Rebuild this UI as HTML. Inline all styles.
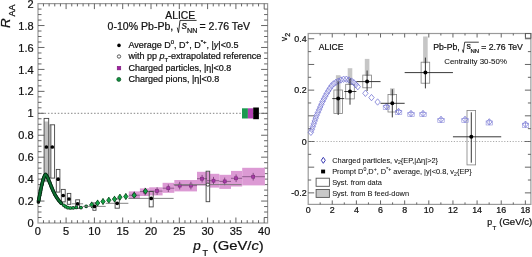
<!DOCTYPE html>
<html><head><meta charset="utf-8"><style>
html,body{margin:0;padding:0;background:#fff;overflow:hidden;width:532px;height:257px;}
svg{display:block;will-change:transform;filter:blur(0.3px);}
text{font-family:"Liberation Sans",sans-serif;fill:#111;stroke:#111;stroke-width:0.22px;}
</style></head><body>
<svg width="532" height="257" viewBox="0 0 532 257">
<rect width="532" height="257" fill="#fff"/>
<rect x="38.00" y="3.60" width="229.60" height="219.40" fill="none" stroke="#9a9a9a" stroke-width="1.2" />
<line x1="38.00" y1="217.51" x2="41.50" y2="217.51" stroke="#555" stroke-width="0.9" />
<line x1="267.60" y1="217.51" x2="264.10" y2="217.51" stroke="#555" stroke-width="0.9" />
<line x1="38.00" y1="212.03" x2="41.50" y2="212.03" stroke="#555" stroke-width="0.9" />
<line x1="267.60" y1="212.03" x2="264.10" y2="212.03" stroke="#555" stroke-width="0.9" />
<line x1="38.00" y1="206.54" x2="41.50" y2="206.54" stroke="#555" stroke-width="0.9" />
<line x1="267.60" y1="206.54" x2="264.10" y2="206.54" stroke="#555" stroke-width="0.9" />
<line x1="38.00" y1="201.06" x2="44.50" y2="201.06" stroke="#555" stroke-width="0.9" />
<line x1="267.60" y1="201.06" x2="261.10" y2="201.06" stroke="#555" stroke-width="0.9" />
<line x1="38.00" y1="195.57" x2="41.50" y2="195.57" stroke="#555" stroke-width="0.9" />
<line x1="267.60" y1="195.57" x2="264.10" y2="195.57" stroke="#555" stroke-width="0.9" />
<line x1="38.00" y1="190.09" x2="41.50" y2="190.09" stroke="#555" stroke-width="0.9" />
<line x1="267.60" y1="190.09" x2="264.10" y2="190.09" stroke="#555" stroke-width="0.9" />
<line x1="38.00" y1="184.60" x2="41.50" y2="184.60" stroke="#555" stroke-width="0.9" />
<line x1="267.60" y1="184.60" x2="264.10" y2="184.60" stroke="#555" stroke-width="0.9" />
<line x1="38.00" y1="179.12" x2="44.50" y2="179.12" stroke="#555" stroke-width="0.9" />
<line x1="267.60" y1="179.12" x2="261.10" y2="179.12" stroke="#555" stroke-width="0.9" />
<line x1="38.00" y1="173.63" x2="41.50" y2="173.63" stroke="#555" stroke-width="0.9" />
<line x1="267.60" y1="173.63" x2="264.10" y2="173.63" stroke="#555" stroke-width="0.9" />
<line x1="38.00" y1="168.15" x2="41.50" y2="168.15" stroke="#555" stroke-width="0.9" />
<line x1="267.60" y1="168.15" x2="264.10" y2="168.15" stroke="#555" stroke-width="0.9" />
<line x1="38.00" y1="162.66" x2="41.50" y2="162.66" stroke="#555" stroke-width="0.9" />
<line x1="267.60" y1="162.66" x2="264.10" y2="162.66" stroke="#555" stroke-width="0.9" />
<line x1="38.00" y1="157.18" x2="44.50" y2="157.18" stroke="#555" stroke-width="0.9" />
<line x1="267.60" y1="157.18" x2="261.10" y2="157.18" stroke="#555" stroke-width="0.9" />
<line x1="38.00" y1="151.69" x2="41.50" y2="151.69" stroke="#555" stroke-width="0.9" />
<line x1="267.60" y1="151.69" x2="264.10" y2="151.69" stroke="#555" stroke-width="0.9" />
<line x1="38.00" y1="146.21" x2="41.50" y2="146.21" stroke="#555" stroke-width="0.9" />
<line x1="267.60" y1="146.21" x2="264.10" y2="146.21" stroke="#555" stroke-width="0.9" />
<line x1="38.00" y1="140.72" x2="41.50" y2="140.72" stroke="#555" stroke-width="0.9" />
<line x1="267.60" y1="140.72" x2="264.10" y2="140.72" stroke="#555" stroke-width="0.9" />
<line x1="38.00" y1="135.24" x2="44.50" y2="135.24" stroke="#555" stroke-width="0.9" />
<line x1="267.60" y1="135.24" x2="261.10" y2="135.24" stroke="#555" stroke-width="0.9" />
<line x1="38.00" y1="129.75" x2="41.50" y2="129.75" stroke="#555" stroke-width="0.9" />
<line x1="267.60" y1="129.75" x2="264.10" y2="129.75" stroke="#555" stroke-width="0.9" />
<line x1="38.00" y1="124.27" x2="41.50" y2="124.27" stroke="#555" stroke-width="0.9" />
<line x1="267.60" y1="124.27" x2="264.10" y2="124.27" stroke="#555" stroke-width="0.9" />
<line x1="38.00" y1="118.78" x2="41.50" y2="118.78" stroke="#555" stroke-width="0.9" />
<line x1="267.60" y1="118.78" x2="264.10" y2="118.78" stroke="#555" stroke-width="0.9" />
<line x1="38.00" y1="113.30" x2="44.50" y2="113.30" stroke="#555" stroke-width="0.9" />
<line x1="267.60" y1="113.30" x2="261.10" y2="113.30" stroke="#555" stroke-width="0.9" />
<line x1="38.00" y1="107.81" x2="41.50" y2="107.81" stroke="#555" stroke-width="0.9" />
<line x1="267.60" y1="107.81" x2="264.10" y2="107.81" stroke="#555" stroke-width="0.9" />
<line x1="38.00" y1="102.33" x2="41.50" y2="102.33" stroke="#555" stroke-width="0.9" />
<line x1="267.60" y1="102.33" x2="264.10" y2="102.33" stroke="#555" stroke-width="0.9" />
<line x1="38.00" y1="96.84" x2="41.50" y2="96.84" stroke="#555" stroke-width="0.9" />
<line x1="267.60" y1="96.84" x2="264.10" y2="96.84" stroke="#555" stroke-width="0.9" />
<line x1="38.00" y1="91.36" x2="44.50" y2="91.36" stroke="#555" stroke-width="0.9" />
<line x1="267.60" y1="91.36" x2="261.10" y2="91.36" stroke="#555" stroke-width="0.9" />
<line x1="38.00" y1="85.88" x2="41.50" y2="85.88" stroke="#555" stroke-width="0.9" />
<line x1="267.60" y1="85.88" x2="264.10" y2="85.88" stroke="#555" stroke-width="0.9" />
<line x1="38.00" y1="80.39" x2="41.50" y2="80.39" stroke="#555" stroke-width="0.9" />
<line x1="267.60" y1="80.39" x2="264.10" y2="80.39" stroke="#555" stroke-width="0.9" />
<line x1="38.00" y1="74.90" x2="41.50" y2="74.90" stroke="#555" stroke-width="0.9" />
<line x1="267.60" y1="74.90" x2="264.10" y2="74.90" stroke="#555" stroke-width="0.9" />
<line x1="38.00" y1="69.42" x2="44.50" y2="69.42" stroke="#555" stroke-width="0.9" />
<line x1="267.60" y1="69.42" x2="261.10" y2="69.42" stroke="#555" stroke-width="0.9" />
<line x1="38.00" y1="63.93" x2="41.50" y2="63.93" stroke="#555" stroke-width="0.9" />
<line x1="267.60" y1="63.93" x2="264.10" y2="63.93" stroke="#555" stroke-width="0.9" />
<line x1="38.00" y1="58.45" x2="41.50" y2="58.45" stroke="#555" stroke-width="0.9" />
<line x1="267.60" y1="58.45" x2="264.10" y2="58.45" stroke="#555" stroke-width="0.9" />
<line x1="38.00" y1="52.97" x2="41.50" y2="52.97" stroke="#555" stroke-width="0.9" />
<line x1="267.60" y1="52.97" x2="264.10" y2="52.97" stroke="#555" stroke-width="0.9" />
<line x1="38.00" y1="47.48" x2="44.50" y2="47.48" stroke="#555" stroke-width="0.9" />
<line x1="267.60" y1="47.48" x2="261.10" y2="47.48" stroke="#555" stroke-width="0.9" />
<line x1="38.00" y1="41.99" x2="41.50" y2="41.99" stroke="#555" stroke-width="0.9" />
<line x1="267.60" y1="41.99" x2="264.10" y2="41.99" stroke="#555" stroke-width="0.9" />
<line x1="38.00" y1="36.51" x2="41.50" y2="36.51" stroke="#555" stroke-width="0.9" />
<line x1="267.60" y1="36.51" x2="264.10" y2="36.51" stroke="#555" stroke-width="0.9" />
<line x1="38.00" y1="31.03" x2="41.50" y2="31.03" stroke="#555" stroke-width="0.9" />
<line x1="267.60" y1="31.03" x2="264.10" y2="31.03" stroke="#555" stroke-width="0.9" />
<line x1="38.00" y1="25.54" x2="44.50" y2="25.54" stroke="#555" stroke-width="0.9" />
<line x1="267.60" y1="25.54" x2="261.10" y2="25.54" stroke="#555" stroke-width="0.9" />
<line x1="38.00" y1="20.05" x2="41.50" y2="20.05" stroke="#555" stroke-width="0.9" />
<line x1="267.60" y1="20.05" x2="264.10" y2="20.05" stroke="#555" stroke-width="0.9" />
<line x1="38.00" y1="14.57" x2="41.50" y2="14.57" stroke="#555" stroke-width="0.9" />
<line x1="267.60" y1="14.57" x2="264.10" y2="14.57" stroke="#555" stroke-width="0.9" />
<line x1="38.00" y1="9.08" x2="41.50" y2="9.08" stroke="#555" stroke-width="0.9" />
<line x1="267.60" y1="9.08" x2="264.10" y2="9.08" stroke="#555" stroke-width="0.9" />
<line x1="43.46" y1="223.00" x2="43.46" y2="220.20" stroke="#555" stroke-width="0.9" />
<line x1="43.46" y1="3.60" x2="43.46" y2="6.40" stroke="#555" stroke-width="0.9" />
<line x1="49.12" y1="223.00" x2="49.12" y2="220.20" stroke="#555" stroke-width="0.9" />
<line x1="49.12" y1="3.60" x2="49.12" y2="6.40" stroke="#555" stroke-width="0.9" />
<line x1="54.78" y1="223.00" x2="54.78" y2="220.20" stroke="#555" stroke-width="0.9" />
<line x1="54.78" y1="3.60" x2="54.78" y2="6.40" stroke="#555" stroke-width="0.9" />
<line x1="60.44" y1="223.00" x2="60.44" y2="220.20" stroke="#555" stroke-width="0.9" />
<line x1="60.44" y1="3.60" x2="60.44" y2="6.40" stroke="#555" stroke-width="0.9" />
<line x1="66.10" y1="223.00" x2="66.10" y2="217.50" stroke="#555" stroke-width="0.9" />
<line x1="66.10" y1="3.60" x2="66.10" y2="9.10" stroke="#555" stroke-width="0.9" />
<line x1="71.76" y1="223.00" x2="71.76" y2="220.20" stroke="#555" stroke-width="0.9" />
<line x1="71.76" y1="3.60" x2="71.76" y2="6.40" stroke="#555" stroke-width="0.9" />
<line x1="77.42" y1="223.00" x2="77.42" y2="220.20" stroke="#555" stroke-width="0.9" />
<line x1="77.42" y1="3.60" x2="77.42" y2="6.40" stroke="#555" stroke-width="0.9" />
<line x1="83.08" y1="223.00" x2="83.08" y2="220.20" stroke="#555" stroke-width="0.9" />
<line x1="83.08" y1="3.60" x2="83.08" y2="6.40" stroke="#555" stroke-width="0.9" />
<line x1="88.74" y1="223.00" x2="88.74" y2="220.20" stroke="#555" stroke-width="0.9" />
<line x1="88.74" y1="3.60" x2="88.74" y2="6.40" stroke="#555" stroke-width="0.9" />
<line x1="94.40" y1="223.00" x2="94.40" y2="217.50" stroke="#555" stroke-width="0.9" />
<line x1="94.40" y1="3.60" x2="94.40" y2="9.10" stroke="#555" stroke-width="0.9" />
<line x1="100.06" y1="223.00" x2="100.06" y2="220.20" stroke="#555" stroke-width="0.9" />
<line x1="100.06" y1="3.60" x2="100.06" y2="6.40" stroke="#555" stroke-width="0.9" />
<line x1="105.72" y1="223.00" x2="105.72" y2="220.20" stroke="#555" stroke-width="0.9" />
<line x1="105.72" y1="3.60" x2="105.72" y2="6.40" stroke="#555" stroke-width="0.9" />
<line x1="111.38" y1="223.00" x2="111.38" y2="220.20" stroke="#555" stroke-width="0.9" />
<line x1="111.38" y1="3.60" x2="111.38" y2="6.40" stroke="#555" stroke-width="0.9" />
<line x1="117.04" y1="223.00" x2="117.04" y2="220.20" stroke="#555" stroke-width="0.9" />
<line x1="117.04" y1="3.60" x2="117.04" y2="6.40" stroke="#555" stroke-width="0.9" />
<line x1="122.70" y1="223.00" x2="122.70" y2="217.50" stroke="#555" stroke-width="0.9" />
<line x1="122.70" y1="3.60" x2="122.70" y2="9.10" stroke="#555" stroke-width="0.9" />
<line x1="128.36" y1="223.00" x2="128.36" y2="220.20" stroke="#555" stroke-width="0.9" />
<line x1="128.36" y1="3.60" x2="128.36" y2="6.40" stroke="#555" stroke-width="0.9" />
<line x1="134.02" y1="223.00" x2="134.02" y2="220.20" stroke="#555" stroke-width="0.9" />
<line x1="134.02" y1="3.60" x2="134.02" y2="6.40" stroke="#555" stroke-width="0.9" />
<line x1="139.68" y1="223.00" x2="139.68" y2="220.20" stroke="#555" stroke-width="0.9" />
<line x1="139.68" y1="3.60" x2="139.68" y2="6.40" stroke="#555" stroke-width="0.9" />
<line x1="145.34" y1="223.00" x2="145.34" y2="220.20" stroke="#555" stroke-width="0.9" />
<line x1="145.34" y1="3.60" x2="145.34" y2="6.40" stroke="#555" stroke-width="0.9" />
<line x1="151.00" y1="223.00" x2="151.00" y2="217.50" stroke="#555" stroke-width="0.9" />
<line x1="151.00" y1="3.60" x2="151.00" y2="9.10" stroke="#555" stroke-width="0.9" />
<line x1="156.66" y1="223.00" x2="156.66" y2="220.20" stroke="#555" stroke-width="0.9" />
<line x1="156.66" y1="3.60" x2="156.66" y2="6.40" stroke="#555" stroke-width="0.9" />
<line x1="162.32" y1="223.00" x2="162.32" y2="220.20" stroke="#555" stroke-width="0.9" />
<line x1="162.32" y1="3.60" x2="162.32" y2="6.40" stroke="#555" stroke-width="0.9" />
<line x1="167.98" y1="223.00" x2="167.98" y2="220.20" stroke="#555" stroke-width="0.9" />
<line x1="167.98" y1="3.60" x2="167.98" y2="6.40" stroke="#555" stroke-width="0.9" />
<line x1="173.64" y1="223.00" x2="173.64" y2="220.20" stroke="#555" stroke-width="0.9" />
<line x1="173.64" y1="3.60" x2="173.64" y2="6.40" stroke="#555" stroke-width="0.9" />
<line x1="179.30" y1="223.00" x2="179.30" y2="217.50" stroke="#555" stroke-width="0.9" />
<line x1="179.30" y1="3.60" x2="179.30" y2="9.10" stroke="#555" stroke-width="0.9" />
<line x1="184.96" y1="223.00" x2="184.96" y2="220.20" stroke="#555" stroke-width="0.9" />
<line x1="184.96" y1="3.60" x2="184.96" y2="6.40" stroke="#555" stroke-width="0.9" />
<line x1="190.62" y1="223.00" x2="190.62" y2="220.20" stroke="#555" stroke-width="0.9" />
<line x1="190.62" y1="3.60" x2="190.62" y2="6.40" stroke="#555" stroke-width="0.9" />
<line x1="196.28" y1="223.00" x2="196.28" y2="220.20" stroke="#555" stroke-width="0.9" />
<line x1="196.28" y1="3.60" x2="196.28" y2="6.40" stroke="#555" stroke-width="0.9" />
<line x1="201.94" y1="223.00" x2="201.94" y2="220.20" stroke="#555" stroke-width="0.9" />
<line x1="201.94" y1="3.60" x2="201.94" y2="6.40" stroke="#555" stroke-width="0.9" />
<line x1="207.60" y1="223.00" x2="207.60" y2="217.50" stroke="#555" stroke-width="0.9" />
<line x1="207.60" y1="3.60" x2="207.60" y2="9.10" stroke="#555" stroke-width="0.9" />
<line x1="213.26" y1="223.00" x2="213.26" y2="220.20" stroke="#555" stroke-width="0.9" />
<line x1="213.26" y1="3.60" x2="213.26" y2="6.40" stroke="#555" stroke-width="0.9" />
<line x1="218.92" y1="223.00" x2="218.92" y2="220.20" stroke="#555" stroke-width="0.9" />
<line x1="218.92" y1="3.60" x2="218.92" y2="6.40" stroke="#555" stroke-width="0.9" />
<line x1="224.58" y1="223.00" x2="224.58" y2="220.20" stroke="#555" stroke-width="0.9" />
<line x1="224.58" y1="3.60" x2="224.58" y2="6.40" stroke="#555" stroke-width="0.9" />
<line x1="230.24" y1="223.00" x2="230.24" y2="220.20" stroke="#555" stroke-width="0.9" />
<line x1="230.24" y1="3.60" x2="230.24" y2="6.40" stroke="#555" stroke-width="0.9" />
<line x1="235.90" y1="223.00" x2="235.90" y2="217.50" stroke="#555" stroke-width="0.9" />
<line x1="235.90" y1="3.60" x2="235.90" y2="9.10" stroke="#555" stroke-width="0.9" />
<line x1="241.56" y1="223.00" x2="241.56" y2="220.20" stroke="#555" stroke-width="0.9" />
<line x1="241.56" y1="3.60" x2="241.56" y2="6.40" stroke="#555" stroke-width="0.9" />
<line x1="247.22" y1="223.00" x2="247.22" y2="220.20" stroke="#555" stroke-width="0.9" />
<line x1="247.22" y1="3.60" x2="247.22" y2="6.40" stroke="#555" stroke-width="0.9" />
<line x1="252.88" y1="223.00" x2="252.88" y2="220.20" stroke="#555" stroke-width="0.9" />
<line x1="252.88" y1="3.60" x2="252.88" y2="6.40" stroke="#555" stroke-width="0.9" />
<line x1="258.54" y1="223.00" x2="258.54" y2="220.20" stroke="#555" stroke-width="0.9" />
<line x1="258.54" y1="3.60" x2="258.54" y2="6.40" stroke="#555" stroke-width="0.9" />
<line x1="264.20" y1="223.00" x2="264.20" y2="217.50" stroke="#555" stroke-width="0.9" />
<line x1="264.20" y1="3.60" x2="264.20" y2="9.10" stroke="#555" stroke-width="0.9" />
<text x="33.60" y="227.10" font-size="11.0" text-anchor="end" >0</text>
<text x="33.60" y="205.16" font-size="11.0" text-anchor="end" >0.2</text>
<text x="33.60" y="183.22" font-size="11.0" text-anchor="end" >0.4</text>
<text x="33.60" y="161.28" font-size="11.0" text-anchor="end" >0.6</text>
<text x="33.60" y="139.34" font-size="11.0" text-anchor="end" >0.8</text>
<text x="33.60" y="117.40" font-size="11.0" text-anchor="end" >1</text>
<text x="33.60" y="95.46" font-size="11.0" text-anchor="end" >1.2</text>
<text x="33.60" y="73.52" font-size="11.0" text-anchor="end" >1.4</text>
<text x="33.60" y="51.58" font-size="11.0" text-anchor="end" >1.6</text>
<text x="33.60" y="29.64" font-size="11.0" text-anchor="end" >1.8</text>
<text x="33.60" y="7.70" font-size="11.0" text-anchor="end" >2</text>
<text x="37.80" y="234.70" font-size="11.0" text-anchor="middle" >0</text>
<text x="66.10" y="234.70" font-size="11.0" text-anchor="middle" >5</text>
<text x="94.40" y="234.70" font-size="11.0" text-anchor="middle" >10</text>
<text x="122.70" y="234.70" font-size="11.0" text-anchor="middle" >15</text>
<text x="151.00" y="234.70" font-size="11.0" text-anchor="middle" >20</text>
<text x="179.30" y="234.70" font-size="11.0" text-anchor="middle" >25</text>
<text x="207.60" y="234.70" font-size="11.0" text-anchor="middle" >30</text>
<text x="235.90" y="234.70" font-size="11.0" text-anchor="middle" >35</text>
<text x="264.20" y="234.70" font-size="11.0" text-anchor="middle" >40</text>
<text x="193.3" y="249.6" font-size="13.5" font-style="italic">p</text>
<text x="202.6" y="255.8" font-size="9">T</text>
<text x="212.8" y="249.6" font-size="13.5" textLength="51" lengthAdjust="spacingAndGlyphs">(GeV/<tspan font-style="italic">c</tspan>)</text>
<text transform="translate(10.0,28.0) rotate(-90)" font-size="13.4"><tspan font-style="italic">R</tspan><tspan font-size="9" dy="4.8" x="11.6">AA</tspan></text>
<line x1="38.00" y1="113.30" x2="267.60" y2="113.30" stroke="#666" stroke-width="0.8" stroke-dasharray="1.5 1.8"/>
<text x="180.20" y="18.70" font-size="10.3" text-anchor="middle" >ALICE</text>
<text x="107.6" y="29.7" font-size="10.55">0-10% Pb-Pb,</text>
<path d="M177.3,27.6 L178.5,32.6 L180.0,20.4 L196.6,20.4" fill="none" stroke="#111" stroke-width="0.85"/>
<text x="181.8" y="29.4" font-size="10.55" font-style="italic">s</text>
<text x="187.0" y="32.8" font-size="7.2">NN</text>
<text x="199.5" y="29.7" font-size="10.55">= 2.76 TeV</text>
<circle cx="119.00" cy="45.40" r="1.8" fill="#000" stroke="none" stroke-width="1"/>
<circle cx="119.00" cy="56.50" r="1.7" fill="#fff" stroke="#333" stroke-width="0.8"/>
<rect x="117.20" y="66.30" width="3.60" height="3.60" fill="#a020a0" stroke="#701070" stroke-width="0.5" />
<circle cx="118.80" cy="79.40" r="2.0" fill="#109040" stroke="#0a5020" stroke-width="0.7"/>
<text x="128.4" y="48.2" font-size="9.0">Average D<tspan font-size="6" dy="-4">0</tspan><tspan dy="4">, D</tspan><tspan font-size="6" dy="-4">+</tspan><tspan dy="4">, D</tspan><tspan font-size="6" dy="-4">*+</tspan><tspan dy="4">, |</tspan><tspan font-style="italic">y</tspan>|&lt;0.5</text>
<text x="128.4" y="59.4" font-size="9.0">with pp <tspan font-style="italic">p</tspan><tspan font-size="6" dy="2.5">T</tspan><tspan dy="-2.5">-extrapolated reference</tspan></text>
<text x="128.4" y="70.7" font-size="9.0">Charged particles, |&#951;|&lt;0.8</text>
<text x="128.4" y="81.9" font-size="9.0">Charged pions, |&#951;|&lt;0.8</text>
<rect x="242.00" y="108.30" width="5.90" height="10.20" fill="#1a9a50" stroke="none" stroke-width="1" />
<rect x="247.90" y="108.30" width="5.30" height="10.20" fill="#b040b0" stroke="none" stroke-width="1" />
<rect x="253.20" y="107.50" width="5.70" height="11.70" fill="#000" stroke="none" stroke-width="1" />
<rect x="128.80" y="191.40" width="11.10" height="7.60" fill="#dc9ad4" stroke="none" stroke-width="1" />
<rect x="139.90" y="188.40" width="9.30" height="7.60" fill="#dc9ad4" stroke="none" stroke-width="1" />
<rect x="149.20" y="187.30" width="13.40" height="8.10" fill="#dc9ad4" stroke="none" stroke-width="1" />
<rect x="162.60" y="182.80" width="11.70" height="10.00" fill="#dc9ad4" stroke="none" stroke-width="1" />
<rect x="174.30" y="180.00" width="22.70" height="11.40" fill="#dc9ad4" stroke="none" stroke-width="1" />
<rect x="197.00" y="171.80" width="13.00" height="13.80" fill="#dc9ad4" stroke="none" stroke-width="1" />
<rect x="210.00" y="173.80" width="9.30" height="13.80" fill="#dc9ad4" stroke="none" stroke-width="1" />
<rect x="219.30" y="174.80" width="11.70" height="14.10" fill="#dc9ad4" stroke="none" stroke-width="1" />
<rect x="231.00" y="170.90" width="11.20" height="15.60" fill="#dc9ad4" stroke="none" stroke-width="1" />
<rect x="242.20" y="167.80" width="22.70" height="17.60" fill="#dc9ad4" stroke="none" stroke-width="1" />
<line x1="128.80" y1="195.20" x2="139.90" y2="195.20" stroke="#7a4a7a" stroke-width="0.8" />
<line x1="134.30" y1="191.40" x2="134.30" y2="199.00" stroke="#6a3a6a" stroke-width="0.8" />
<line x1="139.90" y1="191.60" x2="149.20" y2="191.60" stroke="#7a4a7a" stroke-width="0.8" />
<line x1="145.00" y1="187.80" x2="145.00" y2="195.40" stroke="#6a3a6a" stroke-width="0.8" />
<line x1="149.20" y1="191.10" x2="162.60" y2="191.10" stroke="#7a4a7a" stroke-width="0.8" />
<line x1="157.10" y1="187.30" x2="157.10" y2="194.90" stroke="#6a3a6a" stroke-width="0.8" />
<line x1="162.60" y1="188.20" x2="174.30" y2="188.20" stroke="#7a4a7a" stroke-width="0.8" />
<line x1="168.30" y1="184.40" x2="168.30" y2="192.00" stroke="#6a3a6a" stroke-width="0.8" />
<line x1="174.30" y1="185.60" x2="185.00" y2="185.60" stroke="#7a4a7a" stroke-width="0.8" />
<line x1="179.70" y1="181.80" x2="179.70" y2="189.40" stroke="#6a3a6a" stroke-width="0.8" />
<line x1="185.00" y1="185.60" x2="197.00" y2="185.60" stroke="#7a4a7a" stroke-width="0.8" />
<line x1="190.90" y1="181.80" x2="190.90" y2="189.40" stroke="#6a3a6a" stroke-width="0.8" />
<line x1="197.00" y1="178.70" x2="207.00" y2="178.70" stroke="#7a4a7a" stroke-width="0.8" />
<line x1="202.10" y1="174.90" x2="202.10" y2="182.50" stroke="#6a3a6a" stroke-width="0.8" />
<line x1="207.00" y1="180.70" x2="219.30" y2="180.70" stroke="#7a4a7a" stroke-width="0.8" />
<line x1="213.50" y1="176.90" x2="213.50" y2="184.50" stroke="#6a3a6a" stroke-width="0.8" />
<line x1="219.30" y1="181.40" x2="231.00" y2="181.40" stroke="#7a4a7a" stroke-width="0.8" />
<line x1="224.70" y1="177.60" x2="224.70" y2="185.20" stroke="#6a3a6a" stroke-width="0.8" />
<line x1="231.00" y1="178.30" x2="242.20" y2="178.30" stroke="#7a4a7a" stroke-width="0.8" />
<line x1="236.10" y1="174.50" x2="236.10" y2="182.10" stroke="#6a3a6a" stroke-width="0.8" />
<line x1="242.20" y1="176.70" x2="264.90" y2="176.70" stroke="#7a4a7a" stroke-width="0.8" />
<line x1="253.20" y1="172.90" x2="253.20" y2="180.50" stroke="#6a3a6a" stroke-width="0.8" />
<rect x="132.80" y="193.70" width="3.00" height="3.00" fill="#a83aa8" stroke="#7a2a7a" stroke-width="0.6" />
<rect x="143.50" y="190.10" width="3.00" height="3.00" fill="#a83aa8" stroke="#7a2a7a" stroke-width="0.6" />
<rect x="155.60" y="189.60" width="3.00" height="3.00" fill="#a83aa8" stroke="#7a2a7a" stroke-width="0.6" />
<rect x="166.80" y="186.70" width="3.00" height="3.00" fill="#a83aa8" stroke="#7a2a7a" stroke-width="0.6" />
<rect x="178.20" y="184.10" width="3.00" height="3.00" fill="#a83aa8" stroke="#7a2a7a" stroke-width="0.6" />
<rect x="189.40" y="184.10" width="3.00" height="3.00" fill="#a83aa8" stroke="#7a2a7a" stroke-width="0.6" />
<rect x="200.60" y="177.20" width="3.00" height="3.00" fill="#a83aa8" stroke="#7a2a7a" stroke-width="0.6" />
<rect x="212.00" y="179.20" width="3.00" height="3.00" fill="#a83aa8" stroke="#7a2a7a" stroke-width="0.6" />
<rect x="223.20" y="179.90" width="3.00" height="3.00" fill="#a83aa8" stroke="#7a2a7a" stroke-width="0.6" />
<rect x="234.60" y="176.80" width="3.00" height="3.00" fill="#a83aa8" stroke="#7a2a7a" stroke-width="0.6" />
<rect x="251.70" y="175.20" width="3.00" height="3.00" fill="#a83aa8" stroke="#7a2a7a" stroke-width="0.6" />
<rect x="44.30" y="121.50" width="4.10" height="59.50" fill="#c0c0c0" stroke="none" stroke-width="1" />
<rect x="50.30" y="125.00" width="1.70" height="53.10" fill="#c0c0c0" stroke="none" stroke-width="1" />
<rect x="44.10" y="118.40" width="4.60" height="62.60" fill="none" stroke="#444" stroke-width="0.9" />
<rect x="50.10" y="124.80" width="4.50" height="53.30" fill="none" stroke="#444" stroke-width="0.9" />
<rect x="56.30" y="169.40" width="3.60" height="22.70" fill="none" stroke="#444" stroke-width="0.9" />
<rect x="61.30" y="189.40" width="3.90" height="12.50" fill="none" stroke="#444" stroke-width="0.9" />
<rect x="67.30" y="193.40" width="3.50" height="10.90" fill="none" stroke="#444" stroke-width="0.9" />
<rect x="75.70" y="199.80" width="3.90" height="8.50" fill="none" stroke="#444" stroke-width="0.9" />
<rect x="92.90" y="203.00" width="3.10" height="7.30" fill="none" stroke="#444" stroke-width="0.9" />
<rect x="115.10" y="198.90" width="4.20" height="9.30" fill="none" stroke="#444" stroke-width="0.9" />
<rect x="149.20" y="191.50" width="4.00" height="15.40" fill="none" stroke="#444" stroke-width="0.9" />
<rect x="206.10" y="171.20" width="3.60" height="30.50" fill="none" stroke="#444" stroke-width="0.9" />
<circle cx="38.40" cy="202.00" r="1.8" fill="#082c15" stroke="none" stroke-width="1"/>
<circle cx="38.56" cy="201.11" r="1.8" fill="#082c15" stroke="none" stroke-width="1"/>
<circle cx="38.72" cy="200.23" r="1.8" fill="#082c15" stroke="none" stroke-width="1"/>
<circle cx="38.88" cy="199.34" r="1.8" fill="#082c15" stroke="none" stroke-width="1"/>
<circle cx="39.04" cy="198.46" r="1.8" fill="#082c15" stroke="none" stroke-width="1"/>
<circle cx="39.20" cy="197.57" r="1.8" fill="#082c15" stroke="none" stroke-width="1"/>
<circle cx="39.36" cy="196.69" r="1.8" fill="#082c15" stroke="none" stroke-width="1"/>
<circle cx="39.54" cy="195.80" r="1.8" fill="#082c15" stroke="none" stroke-width="1"/>
<circle cx="39.72" cy="194.92" r="1.8" fill="#082c15" stroke="none" stroke-width="1"/>
<circle cx="39.89" cy="194.04" r="1.8" fill="#082c15" stroke="none" stroke-width="1"/>
<circle cx="40.07" cy="193.16" r="1.8" fill="#082c15" stroke="none" stroke-width="1"/>
<circle cx="40.25" cy="192.27" r="1.8" fill="#082c15" stroke="none" stroke-width="1"/>
<circle cx="40.42" cy="191.39" r="1.8" fill="#082c15" stroke="none" stroke-width="1"/>
<circle cx="40.60" cy="190.51" r="1.8" fill="#082c15" stroke="none" stroke-width="1"/>
<circle cx="40.77" cy="189.63" r="1.8" fill="#082c15" stroke="none" stroke-width="1"/>
<circle cx="40.95" cy="188.74" r="1.8" fill="#082c15" stroke="none" stroke-width="1"/>
<circle cx="41.13" cy="187.86" r="1.8" fill="#082c15" stroke="none" stroke-width="1"/>
<circle cx="41.33" cy="186.98" r="1.8" fill="#082c15" stroke="none" stroke-width="1"/>
<circle cx="41.53" cy="186.11" r="1.8" fill="#082c15" stroke="none" stroke-width="1"/>
<circle cx="41.72" cy="185.23" r="1.8" fill="#082c15" stroke="none" stroke-width="1"/>
<circle cx="41.92" cy="184.35" r="1.8" fill="#082c15" stroke="none" stroke-width="1"/>
<circle cx="42.13" cy="183.48" r="1.8" fill="#082c15" stroke="none" stroke-width="1"/>
<circle cx="42.36" cy="182.60" r="1.8" fill="#082c15" stroke="none" stroke-width="1"/>
<circle cx="42.58" cy="181.73" r="1.8" fill="#082c15" stroke="none" stroke-width="1"/>
<circle cx="42.81" cy="180.86" r="1.8" fill="#082c15" stroke="none" stroke-width="1"/>
<circle cx="43.06" cy="180.00" r="1.8" fill="#082c15" stroke="none" stroke-width="1"/>
<circle cx="43.32" cy="179.14" r="1.8" fill="#082c15" stroke="none" stroke-width="1"/>
<circle cx="43.59" cy="178.28" r="1.8" fill="#082c15" stroke="none" stroke-width="1"/>
<circle cx="43.88" cy="177.43" r="1.8" fill="#082c15" stroke="none" stroke-width="1"/>
<circle cx="44.25" cy="176.61" r="1.8" fill="#082c15" stroke="none" stroke-width="1"/>
<circle cx="44.62" cy="175.79" r="1.8" fill="#082c15" stroke="none" stroke-width="1"/>
<circle cx="45.08" cy="175.02" r="1.8" fill="#082c15" stroke="none" stroke-width="1"/>
<circle cx="45.61" cy="174.31" r="1.8" fill="#082c15" stroke="none" stroke-width="1"/>
<circle cx="46.14" cy="175.04" r="1.8" fill="#082c15" stroke="none" stroke-width="1"/>
<circle cx="46.63" cy="175.79" r="1.8" fill="#082c15" stroke="none" stroke-width="1"/>
<circle cx="47.07" cy="176.58" r="1.8" fill="#082c15" stroke="none" stroke-width="1"/>
<circle cx="47.52" cy="177.35" r="1.8" fill="#082c15" stroke="none" stroke-width="1"/>
<circle cx="47.96" cy="178.14" r="1.8" fill="#082c15" stroke="none" stroke-width="1"/>
<circle cx="48.29" cy="178.98" r="1.8" fill="#082c15" stroke="none" stroke-width="1"/>
<circle cx="48.63" cy="179.81" r="1.8" fill="#082c15" stroke="none" stroke-width="1"/>
<circle cx="48.96" cy="180.65" r="1.8" fill="#082c15" stroke="none" stroke-width="1"/>
<circle cx="49.29" cy="181.48" r="1.8" fill="#082c15" stroke="none" stroke-width="1"/>
<circle cx="49.63" cy="182.32" r="1.8" fill="#082c15" stroke="none" stroke-width="1"/>
<circle cx="49.96" cy="183.16" r="1.8" fill="#082c15" stroke="none" stroke-width="1"/>
<circle cx="50.30" cy="183.99" r="1.8" fill="#082c15" stroke="none" stroke-width="1"/>
<circle cx="50.63" cy="184.83" r="1.8" fill="#082c15" stroke="none" stroke-width="1"/>
<circle cx="50.96" cy="185.66" r="1.8" fill="#082c15" stroke="none" stroke-width="1"/>
<circle cx="51.30" cy="186.50" r="1.8" fill="#082c15" stroke="none" stroke-width="1"/>
<circle cx="51.63" cy="187.33" r="1.8" fill="#082c15" stroke="none" stroke-width="1"/>
<circle cx="51.97" cy="188.17" r="1.8" fill="#082c15" stroke="none" stroke-width="1"/>
<circle cx="52.33" cy="188.99" r="1.8" fill="#082c15" stroke="none" stroke-width="1"/>
<circle cx="52.69" cy="189.82" r="1.8" fill="#082c15" stroke="none" stroke-width="1"/>
<circle cx="53.05" cy="190.64" r="1.8" fill="#082c15" stroke="none" stroke-width="1"/>
<circle cx="53.43" cy="191.46" r="1.8" fill="#082c15" stroke="none" stroke-width="1"/>
<circle cx="53.80" cy="192.28" r="1.8" fill="#082c15" stroke="none" stroke-width="1"/>
<circle cx="54.21" cy="193.08" r="1.8" fill="#082c15" stroke="none" stroke-width="1"/>
<circle cx="54.62" cy="193.88" r="1.8" fill="#082c15" stroke="none" stroke-width="1"/>
<circle cx="55.04" cy="194.68" r="1.8" fill="#082c15" stroke="none" stroke-width="1"/>
<circle cx="55.48" cy="195.46" r="1.8" fill="#082c15" stroke="none" stroke-width="1"/>
<circle cx="55.92" cy="196.25" r="1.8" fill="#082c15" stroke="none" stroke-width="1"/>
<circle cx="56.39" cy="197.02" r="1.8" fill="#082c15" stroke="none" stroke-width="1"/>
<circle cx="56.86" cy="197.78" r="1.8" fill="#082c15" stroke="none" stroke-width="1"/>
<circle cx="57.37" cy="198.52" r="1.8" fill="#082c15" stroke="none" stroke-width="1"/>
<circle cx="57.89" cy="199.26" r="1.8" fill="#082c15" stroke="none" stroke-width="1"/>
<circle cx="58.43" cy="199.98" r="1.8" fill="#082c15" stroke="none" stroke-width="1"/>
<circle cx="58.99" cy="200.68" r="1.8" fill="#082c15" stroke="none" stroke-width="1"/>
<circle cx="59.56" cy="201.37" r="1.8" fill="#082c15" stroke="none" stroke-width="1"/>
<circle cx="60.15" cy="202.05" r="1.8" fill="#082c15" stroke="none" stroke-width="1"/>
<circle cx="60.74" cy="202.73" r="1.8" fill="#082c15" stroke="none" stroke-width="1"/>
<circle cx="61.38" cy="203.38" r="1.8" fill="#082c15" stroke="none" stroke-width="1"/>
<circle cx="63.90" cy="205.30" r="1.85" fill="#0a3318" stroke="none" stroke-width="1"/>
<circle cx="65.70" cy="206.70" r="1.85" fill="#0a3318" stroke="none" stroke-width="1"/>
<circle cx="67.90" cy="207.70" r="1.85" fill="#0a3318" stroke="none" stroke-width="1"/>
<circle cx="70.40" cy="208.00" r="1.85" fill="#0a3318" stroke="none" stroke-width="1"/>
<circle cx="73.20" cy="207.80" r="1.85" fill="#0a3318" stroke="none" stroke-width="1"/>
<circle cx="76.30" cy="207.40" r="1.85" fill="#0a3318" stroke="none" stroke-width="1"/>
<circle cx="81.00" cy="207.60" r="1.85" fill="#0a3318" stroke="none" stroke-width="1"/>
<circle cx="86.20" cy="206.30" r="1.85" fill="#0a3318" stroke="none" stroke-width="1"/>
<circle cx="38.40" cy="202.00" r="0.9" fill="#0d7232" stroke="none" stroke-width="1"/>
<circle cx="38.56" cy="201.11" r="0.9" fill="#0d7232" stroke="none" stroke-width="1"/>
<circle cx="38.72" cy="200.23" r="0.9" fill="#0d7232" stroke="none" stroke-width="1"/>
<circle cx="38.88" cy="199.34" r="0.9" fill="#0d7232" stroke="none" stroke-width="1"/>
<circle cx="39.04" cy="198.46" r="0.9" fill="#0d7232" stroke="none" stroke-width="1"/>
<circle cx="39.20" cy="197.57" r="0.9" fill="#0d7232" stroke="none" stroke-width="1"/>
<circle cx="39.36" cy="196.69" r="0.9" fill="#0d7232" stroke="none" stroke-width="1"/>
<circle cx="39.54" cy="195.80" r="0.9" fill="#0d7232" stroke="none" stroke-width="1"/>
<circle cx="39.72" cy="194.92" r="0.9" fill="#0d7232" stroke="none" stroke-width="1"/>
<circle cx="39.89" cy="194.04" r="0.9" fill="#0d7232" stroke="none" stroke-width="1"/>
<circle cx="40.07" cy="193.16" r="0.9" fill="#0d7232" stroke="none" stroke-width="1"/>
<circle cx="40.25" cy="192.27" r="0.9" fill="#0d7232" stroke="none" stroke-width="1"/>
<circle cx="40.42" cy="191.39" r="0.9" fill="#0d7232" stroke="none" stroke-width="1"/>
<circle cx="40.60" cy="190.51" r="0.9" fill="#0d7232" stroke="none" stroke-width="1"/>
<circle cx="40.77" cy="189.63" r="0.9" fill="#0d7232" stroke="none" stroke-width="1"/>
<circle cx="40.95" cy="188.74" r="0.9" fill="#0d7232" stroke="none" stroke-width="1"/>
<circle cx="41.13" cy="187.86" r="0.9" fill="#0d7232" stroke="none" stroke-width="1"/>
<circle cx="41.33" cy="186.98" r="0.9" fill="#0d7232" stroke="none" stroke-width="1"/>
<circle cx="41.53" cy="186.11" r="0.9" fill="#0d7232" stroke="none" stroke-width="1"/>
<circle cx="41.72" cy="185.23" r="0.9" fill="#0d7232" stroke="none" stroke-width="1"/>
<circle cx="41.92" cy="184.35" r="0.9" fill="#0d7232" stroke="none" stroke-width="1"/>
<circle cx="42.13" cy="183.48" r="0.9" fill="#0d7232" stroke="none" stroke-width="1"/>
<circle cx="42.36" cy="182.60" r="0.9" fill="#0d7232" stroke="none" stroke-width="1"/>
<circle cx="42.58" cy="181.73" r="0.9" fill="#0d7232" stroke="none" stroke-width="1"/>
<circle cx="42.81" cy="180.86" r="0.9" fill="#0d7232" stroke="none" stroke-width="1"/>
<circle cx="43.06" cy="180.00" r="0.9" fill="#0d7232" stroke="none" stroke-width="1"/>
<circle cx="43.32" cy="179.14" r="0.9" fill="#0d7232" stroke="none" stroke-width="1"/>
<circle cx="43.59" cy="178.28" r="0.9" fill="#0d7232" stroke="none" stroke-width="1"/>
<circle cx="43.88" cy="177.43" r="0.9" fill="#0d7232" stroke="none" stroke-width="1"/>
<circle cx="44.25" cy="176.61" r="0.9" fill="#0d7232" stroke="none" stroke-width="1"/>
<circle cx="44.62" cy="175.79" r="0.9" fill="#0d7232" stroke="none" stroke-width="1"/>
<circle cx="45.08" cy="175.02" r="0.9" fill="#0d7232" stroke="none" stroke-width="1"/>
<circle cx="45.61" cy="174.31" r="0.9" fill="#0d7232" stroke="none" stroke-width="1"/>
<circle cx="46.14" cy="175.04" r="0.9" fill="#0d7232" stroke="none" stroke-width="1"/>
<circle cx="46.63" cy="175.79" r="0.9" fill="#0d7232" stroke="none" stroke-width="1"/>
<circle cx="47.07" cy="176.58" r="0.9" fill="#0d7232" stroke="none" stroke-width="1"/>
<circle cx="47.52" cy="177.35" r="0.9" fill="#0d7232" stroke="none" stroke-width="1"/>
<circle cx="47.96" cy="178.14" r="0.9" fill="#0d7232" stroke="none" stroke-width="1"/>
<circle cx="48.29" cy="178.98" r="0.9" fill="#0d7232" stroke="none" stroke-width="1"/>
<circle cx="48.63" cy="179.81" r="0.9" fill="#0d7232" stroke="none" stroke-width="1"/>
<circle cx="48.96" cy="180.65" r="0.9" fill="#0d7232" stroke="none" stroke-width="1"/>
<circle cx="49.29" cy="181.48" r="0.9" fill="#0d7232" stroke="none" stroke-width="1"/>
<circle cx="49.63" cy="182.32" r="0.9" fill="#0d7232" stroke="none" stroke-width="1"/>
<circle cx="49.96" cy="183.16" r="0.9" fill="#0d7232" stroke="none" stroke-width="1"/>
<circle cx="50.30" cy="183.99" r="0.9" fill="#0d7232" stroke="none" stroke-width="1"/>
<circle cx="50.63" cy="184.83" r="0.9" fill="#0d7232" stroke="none" stroke-width="1"/>
<circle cx="50.96" cy="185.66" r="0.9" fill="#0d7232" stroke="none" stroke-width="1"/>
<circle cx="51.30" cy="186.50" r="0.9" fill="#0d7232" stroke="none" stroke-width="1"/>
<circle cx="51.63" cy="187.33" r="0.9" fill="#0d7232" stroke="none" stroke-width="1"/>
<circle cx="51.97" cy="188.17" r="0.9" fill="#0d7232" stroke="none" stroke-width="1"/>
<circle cx="52.33" cy="188.99" r="0.9" fill="#0d7232" stroke="none" stroke-width="1"/>
<circle cx="52.69" cy="189.82" r="0.9" fill="#0d7232" stroke="none" stroke-width="1"/>
<circle cx="53.05" cy="190.64" r="0.9" fill="#0d7232" stroke="none" stroke-width="1"/>
<circle cx="53.43" cy="191.46" r="0.9" fill="#0d7232" stroke="none" stroke-width="1"/>
<circle cx="53.80" cy="192.28" r="0.9" fill="#0d7232" stroke="none" stroke-width="1"/>
<circle cx="54.21" cy="193.08" r="0.9" fill="#0d7232" stroke="none" stroke-width="1"/>
<circle cx="54.62" cy="193.88" r="0.9" fill="#0d7232" stroke="none" stroke-width="1"/>
<circle cx="55.04" cy="194.68" r="0.9" fill="#0d7232" stroke="none" stroke-width="1"/>
<circle cx="55.48" cy="195.46" r="0.9" fill="#0d7232" stroke="none" stroke-width="1"/>
<circle cx="55.92" cy="196.25" r="0.9" fill="#0d7232" stroke="none" stroke-width="1"/>
<circle cx="56.39" cy="197.02" r="0.9" fill="#0d7232" stroke="none" stroke-width="1"/>
<circle cx="56.86" cy="197.78" r="0.9" fill="#0d7232" stroke="none" stroke-width="1"/>
<circle cx="57.37" cy="198.52" r="0.9" fill="#0d7232" stroke="none" stroke-width="1"/>
<circle cx="57.89" cy="199.26" r="0.9" fill="#0d7232" stroke="none" stroke-width="1"/>
<circle cx="58.43" cy="199.98" r="0.9" fill="#0d7232" stroke="none" stroke-width="1"/>
<circle cx="58.99" cy="200.68" r="0.9" fill="#0d7232" stroke="none" stroke-width="1"/>
<circle cx="59.56" cy="201.37" r="0.9" fill="#0d7232" stroke="none" stroke-width="1"/>
<circle cx="60.15" cy="202.05" r="0.9" fill="#0d7232" stroke="none" stroke-width="1"/>
<circle cx="60.74" cy="202.73" r="0.9" fill="#0d7232" stroke="none" stroke-width="1"/>
<circle cx="61.38" cy="203.38" r="0.9" fill="#0d7232" stroke="none" stroke-width="1"/>
<circle cx="63.90" cy="205.30" r="1.15" fill="#16a848" stroke="none" stroke-width="1"/>
<circle cx="65.70" cy="206.70" r="1.15" fill="#16a848" stroke="none" stroke-width="1"/>
<circle cx="67.90" cy="207.70" r="1.15" fill="#16a848" stroke="none" stroke-width="1"/>
<circle cx="70.40" cy="208.00" r="1.15" fill="#16a848" stroke="none" stroke-width="1"/>
<circle cx="73.20" cy="207.80" r="1.15" fill="#16a848" stroke="none" stroke-width="1"/>
<circle cx="76.30" cy="207.40" r="1.15" fill="#16a848" stroke="none" stroke-width="1"/>
<circle cx="81.00" cy="207.60" r="1.15" fill="#16a848" stroke="none" stroke-width="1"/>
<circle cx="86.20" cy="206.30" r="1.15" fill="#16a848" stroke="none" stroke-width="1"/>
<line x1="91.70" y1="201.70" x2="91.70" y2="208.10" stroke="#0b4a20" stroke-width="0.8" />
<line x1="97.60" y1="199.80" x2="97.60" y2="206.20" stroke="#0b4a20" stroke-width="0.8" />
<line x1="103.00" y1="198.30" x2="103.00" y2="204.70" stroke="#0b4a20" stroke-width="0.8" />
<line x1="108.80" y1="197.00" x2="108.80" y2="203.40" stroke="#0b4a20" stroke-width="0.8" />
<line x1="114.50" y1="195.90" x2="114.50" y2="202.30" stroke="#0b4a20" stroke-width="0.8" />
<line x1="119.90" y1="194.00" x2="119.90" y2="200.40" stroke="#0b4a20" stroke-width="0.8" />
<line x1="125.80" y1="193.30" x2="125.80" y2="199.70" stroke="#0b4a20" stroke-width="0.8" />
<line x1="134.20" y1="192.10" x2="134.20" y2="198.50" stroke="#0b4a20" stroke-width="0.8" />
<line x1="145.50" y1="188.00" x2="145.50" y2="194.40" stroke="#0b4a20" stroke-width="0.8" />
<path d="M91.70,202.00 L93.90,204.90 L91.70,207.80 L89.50,204.90 Z" fill="#14a446" stroke="#0a4019" stroke-width="0.75"/>
<path d="M97.60,200.10 L99.80,203.00 L97.60,205.90 L95.40,203.00 Z" fill="#14a446" stroke="#0a4019" stroke-width="0.75"/>
<path d="M103.00,198.60 L105.20,201.50 L103.00,204.40 L100.80,201.50 Z" fill="#14a446" stroke="#0a4019" stroke-width="0.75"/>
<path d="M108.80,197.30 L111.00,200.20 L108.80,203.10 L106.60,200.20 Z" fill="#14a446" stroke="#0a4019" stroke-width="0.75"/>
<path d="M114.50,196.20 L116.70,199.10 L114.50,202.00 L112.30,199.10 Z" fill="#14a446" stroke="#0a4019" stroke-width="0.75"/>
<path d="M119.90,194.30 L122.10,197.20 L119.90,200.10 L117.70,197.20 Z" fill="#14a446" stroke="#0a4019" stroke-width="0.75"/>
<path d="M125.80,193.60 L128.00,196.50 L125.80,199.40 L123.60,196.50 Z" fill="#14a446" stroke="#0a4019" stroke-width="0.75"/>
<path d="M134.20,192.40 L136.40,195.30 L134.20,198.20 L132.00,195.30 Z" fill="#14a446" stroke="#0a4019" stroke-width="0.75"/>
<path d="M145.50,188.30 L147.70,191.20 L145.50,194.10 L143.30,191.20 Z" fill="#14a446" stroke="#0a4019" stroke-width="0.75"/>
<circle cx="38.40" cy="202.00" r="1.5" fill="#111" stroke="none" stroke-width="1"/>
<line x1="71.76" y1="203.80" x2="83.08" y2="203.80" stroke="#777" stroke-width="0.9" />
<line x1="83.08" y1="206.40" x2="105.72" y2="206.40" stroke="#777" stroke-width="0.9" />
<line x1="105.72" y1="203.30" x2="128.36" y2="203.30" stroke="#777" stroke-width="0.9" />
<line x1="128.36" y1="198.40" x2="173.64" y2="198.40" stroke="#777" stroke-width="0.9" />
<line x1="173.64" y1="184.60" x2="241.56" y2="184.60" stroke="#777" stroke-width="0.9" />
<circle cx="46.40" cy="147.00" r="1.85" fill="#000" stroke="none" stroke-width="1"/>
<circle cx="52.30" cy="147.00" r="1.85" fill="#000" stroke="none" stroke-width="1"/>
<circle cx="58.10" cy="179.20" r="1.85" fill="#000" stroke="none" stroke-width="1"/>
<circle cx="63.20" cy="195.50" r="1.85" fill="#000" stroke="none" stroke-width="1"/>
<circle cx="69.00" cy="199.00" r="1.85" fill="#000" stroke="none" stroke-width="1"/>
<circle cx="77.60" cy="203.80" r="1.85" fill="#000" stroke="none" stroke-width="1"/>
<circle cx="94.50" cy="206.40" r="1.85" fill="#000" stroke="none" stroke-width="1"/>
<circle cx="117.20" cy="203.30" r="1.85" fill="#000" stroke="none" stroke-width="1"/>
<circle cx="151.20" cy="198.40" r="1.85" fill="#000" stroke="none" stroke-width="1"/>
<circle cx="207.90" cy="184.60" r="1.6" fill="#fff" stroke="#222" stroke-width="0.8"/>
<rect x="308.20" y="33.50" width="222.70" height="170.90" fill="none" stroke="#9a9a9a" stroke-width="1.2" />
<line x1="308.20" y1="192.86" x2="314.20" y2="192.86" stroke="#555" stroke-width="0.9" />
<line x1="530.90" y1="192.86" x2="524.90" y2="192.86" stroke="#555" stroke-width="0.9" />
<line x1="308.20" y1="180.02" x2="311.20" y2="180.02" stroke="#555" stroke-width="0.9" />
<line x1="530.90" y1="180.02" x2="527.90" y2="180.02" stroke="#555" stroke-width="0.9" />
<line x1="308.20" y1="167.18" x2="314.20" y2="167.18" stroke="#555" stroke-width="0.9" />
<line x1="530.90" y1="167.18" x2="524.90" y2="167.18" stroke="#555" stroke-width="0.9" />
<line x1="308.20" y1="154.34" x2="311.20" y2="154.34" stroke="#555" stroke-width="0.9" />
<line x1="530.90" y1="154.34" x2="527.90" y2="154.34" stroke="#555" stroke-width="0.9" />
<line x1="308.20" y1="141.50" x2="314.20" y2="141.50" stroke="#555" stroke-width="0.9" />
<line x1="530.90" y1="141.50" x2="524.90" y2="141.50" stroke="#555" stroke-width="0.9" />
<line x1="308.20" y1="128.66" x2="311.20" y2="128.66" stroke="#555" stroke-width="0.9" />
<line x1="530.90" y1="128.66" x2="527.90" y2="128.66" stroke="#555" stroke-width="0.9" />
<line x1="308.20" y1="115.82" x2="314.20" y2="115.82" stroke="#555" stroke-width="0.9" />
<line x1="530.90" y1="115.82" x2="524.90" y2="115.82" stroke="#555" stroke-width="0.9" />
<line x1="308.20" y1="102.98" x2="311.20" y2="102.98" stroke="#555" stroke-width="0.9" />
<line x1="530.90" y1="102.98" x2="527.90" y2="102.98" stroke="#555" stroke-width="0.9" />
<line x1="308.20" y1="90.14" x2="314.20" y2="90.14" stroke="#555" stroke-width="0.9" />
<line x1="530.90" y1="90.14" x2="524.90" y2="90.14" stroke="#555" stroke-width="0.9" />
<line x1="308.20" y1="77.30" x2="311.20" y2="77.30" stroke="#555" stroke-width="0.9" />
<line x1="530.90" y1="77.30" x2="527.90" y2="77.30" stroke="#555" stroke-width="0.9" />
<line x1="308.20" y1="64.46" x2="314.20" y2="64.46" stroke="#555" stroke-width="0.9" />
<line x1="530.90" y1="64.46" x2="524.90" y2="64.46" stroke="#555" stroke-width="0.9" />
<line x1="308.20" y1="51.62" x2="311.20" y2="51.62" stroke="#555" stroke-width="0.9" />
<line x1="530.90" y1="51.62" x2="527.90" y2="51.62" stroke="#555" stroke-width="0.9" />
<line x1="308.20" y1="38.78" x2="314.20" y2="38.78" stroke="#555" stroke-width="0.9" />
<line x1="530.90" y1="38.78" x2="524.90" y2="38.78" stroke="#555" stroke-width="0.9" />
<line x1="320.17" y1="204.40" x2="320.17" y2="202.40" stroke="#555" stroke-width="0.9" />
<line x1="320.17" y1="33.50" x2="320.17" y2="35.50" stroke="#555" stroke-width="0.9" />
<line x1="332.24" y1="204.40" x2="332.24" y2="200.40" stroke="#555" stroke-width="0.9" />
<line x1="332.24" y1="33.50" x2="332.24" y2="37.50" stroke="#555" stroke-width="0.9" />
<line x1="344.31" y1="204.40" x2="344.31" y2="202.40" stroke="#555" stroke-width="0.9" />
<line x1="344.31" y1="33.50" x2="344.31" y2="35.50" stroke="#555" stroke-width="0.9" />
<line x1="356.38" y1="204.40" x2="356.38" y2="200.40" stroke="#555" stroke-width="0.9" />
<line x1="356.38" y1="33.50" x2="356.38" y2="37.50" stroke="#555" stroke-width="0.9" />
<line x1="368.45" y1="204.40" x2="368.45" y2="202.40" stroke="#555" stroke-width="0.9" />
<line x1="368.45" y1="33.50" x2="368.45" y2="35.50" stroke="#555" stroke-width="0.9" />
<line x1="380.52" y1="204.40" x2="380.52" y2="200.40" stroke="#555" stroke-width="0.9" />
<line x1="380.52" y1="33.50" x2="380.52" y2="37.50" stroke="#555" stroke-width="0.9" />
<line x1="392.59" y1="204.40" x2="392.59" y2="202.40" stroke="#555" stroke-width="0.9" />
<line x1="392.59" y1="33.50" x2="392.59" y2="35.50" stroke="#555" stroke-width="0.9" />
<line x1="404.66" y1="204.40" x2="404.66" y2="200.40" stroke="#555" stroke-width="0.9" />
<line x1="404.66" y1="33.50" x2="404.66" y2="37.50" stroke="#555" stroke-width="0.9" />
<line x1="416.73" y1="204.40" x2="416.73" y2="202.40" stroke="#555" stroke-width="0.9" />
<line x1="416.73" y1="33.50" x2="416.73" y2="35.50" stroke="#555" stroke-width="0.9" />
<line x1="428.80" y1="204.40" x2="428.80" y2="200.40" stroke="#555" stroke-width="0.9" />
<line x1="428.80" y1="33.50" x2="428.80" y2="37.50" stroke="#555" stroke-width="0.9" />
<line x1="440.87" y1="204.40" x2="440.87" y2="202.40" stroke="#555" stroke-width="0.9" />
<line x1="440.87" y1="33.50" x2="440.87" y2="35.50" stroke="#555" stroke-width="0.9" />
<line x1="452.94" y1="204.40" x2="452.94" y2="200.40" stroke="#555" stroke-width="0.9" />
<line x1="452.94" y1="33.50" x2="452.94" y2="37.50" stroke="#555" stroke-width="0.9" />
<line x1="465.01" y1="204.40" x2="465.01" y2="202.40" stroke="#555" stroke-width="0.9" />
<line x1="465.01" y1="33.50" x2="465.01" y2="35.50" stroke="#555" stroke-width="0.9" />
<line x1="477.08" y1="204.40" x2="477.08" y2="200.40" stroke="#555" stroke-width="0.9" />
<line x1="477.08" y1="33.50" x2="477.08" y2="37.50" stroke="#555" stroke-width="0.9" />
<line x1="489.15" y1="204.40" x2="489.15" y2="202.40" stroke="#555" stroke-width="0.9" />
<line x1="489.15" y1="33.50" x2="489.15" y2="35.50" stroke="#555" stroke-width="0.9" />
<line x1="501.22" y1="204.40" x2="501.22" y2="200.40" stroke="#555" stroke-width="0.9" />
<line x1="501.22" y1="33.50" x2="501.22" y2="37.50" stroke="#555" stroke-width="0.9" />
<line x1="513.29" y1="204.40" x2="513.29" y2="202.40" stroke="#555" stroke-width="0.9" />
<line x1="513.29" y1="33.50" x2="513.29" y2="35.50" stroke="#555" stroke-width="0.9" />
<line x1="525.36" y1="204.40" x2="525.36" y2="200.40" stroke="#555" stroke-width="0.9" />
<line x1="525.36" y1="33.50" x2="525.36" y2="37.50" stroke="#555" stroke-width="0.9" />
<text x="306.60" y="41.98" font-size="8.9" text-anchor="end" >0.4</text>
<text x="306.60" y="93.34" font-size="8.9" text-anchor="end" >0.2</text>
<text x="306.60" y="144.70" font-size="8.9" text-anchor="end" >0</text>
<text x="306.60" y="196.06" font-size="8.9" text-anchor="end" >-0.2</text>
<text x="308.10" y="213.40" font-size="8.9" text-anchor="middle" >0</text>
<text x="332.24" y="213.40" font-size="8.9" text-anchor="middle" >2</text>
<text x="356.38" y="213.40" font-size="8.9" text-anchor="middle" >4</text>
<text x="380.52" y="213.40" font-size="8.9" text-anchor="middle" >6</text>
<text x="404.66" y="213.40" font-size="8.9" text-anchor="middle" >8</text>
<text x="428.80" y="213.40" font-size="8.9" text-anchor="middle" >10</text>
<text x="452.94" y="213.40" font-size="8.9" text-anchor="middle" >12</text>
<text x="477.08" y="213.40" font-size="8.9" text-anchor="middle" >14</text>
<text x="501.22" y="213.40" font-size="8.9" text-anchor="middle" >16</text>
<text x="525.36" y="213.40" font-size="8.9" text-anchor="middle" >18</text>
<text x="487.3" y="224.6" font-size="8.8">p</text>
<text x="492.4" y="230.2" font-size="6.2">T</text>
<text x="499.2" y="224.8" font-size="9" textLength="33" lengthAdjust="spacingAndGlyphs">(GeV/c)</text>
<text transform="translate(287.0,41.2) rotate(-90)" font-size="8.8"><tspan>v</tspan><tspan font-size="7" dy="3.0">2</tspan></text>
<line x1="308.20" y1="141.50" x2="530.90" y2="141.50" stroke="#888" stroke-width="0.7" stroke-dasharray="1.2 1.6"/>
<text x="318.80" y="50.20" font-size="8.5" text-anchor="start" >ALICE</text>
<text x="433.2" y="49.8" font-size="8.7">Pb-Pb,</text>
<path d="M462.4,49.6 L463.3,52.6 L464.7,42.2 L478.8,42.2" fill="none" stroke="#111" stroke-width="0.8"/>
<text x="466.6" y="49.3" font-size="8.8">s</text>
<text x="470.4" y="53.0" font-size="6">NN</text>
<text x="481.3" y="49.8" font-size="8.7">= 2.76 TeV</text>
<text x="444.20" y="64.20" font-size="7.9" text-anchor="start" style="stroke-width:0.06px">Centrality 30-50%</text>
<path d="M323.3,157.3 L325.3,160.3 L323.3,163.3 L321.3,160.3 Z" fill="none" stroke="#3c3cb4" stroke-width="1.0"/>
<rect x="321.10" y="169.60" width="4.00" height="3.80" fill="#000" stroke="none" stroke-width="1" />
<rect x="316.10" y="178.20" width="13.30" height="8.10" fill="#fff" stroke="#555" stroke-width="0.9" />
<rect x="316.10" y="189.50" width="13.30" height="7.90" fill="#c8c8c8" stroke="#555" stroke-width="0.9" />
<text x="332.2" y="162.6" font-size="7.4" style="stroke-width:0.06px">Charged particles, v<tspan font-size="5.2" dy="1.8">2</tspan><tspan dy="-1.8">{EP,|&#916;&#951;|&gt;2}</tspan></text>
<text x="332.2" y="173.8" font-size="7.4" style="stroke-width:0.06px">Prompt D<tspan font-size="5.2" dy="-3">0</tspan><tspan dy="3">,D</tspan><tspan font-size="5.2" dy="-3">+</tspan><tspan dy="3">, D</tspan><tspan font-size="5.2" dy="-3">*+</tspan><tspan dy="3"> average, |y|&lt;0.8, v</tspan><tspan font-size="5.2" dy="1.8">2</tspan><tspan dy="-1.8">{EP}</tspan></text>
<text x="332.20" y="184.70" font-size="7.4" text-anchor="start" style="stroke-width:0.06px">Syst. from data</text>
<text x="332.20" y="195.70" font-size="7.4" text-anchor="start" style="stroke-width:0.06px">Syst. from B feed-down</text>
<rect x="335.90" y="75.20" width="4.60" height="37.80" fill="#c6c6c6" stroke="none" stroke-width="1" />
<rect x="347.70" y="68.20" width="4.60" height="16.80" fill="#c6c6c6" stroke="none" stroke-width="1" />
<rect x="364.80" y="58.90" width="4.60" height="17.10" fill="#c6c6c6" stroke="none" stroke-width="1" />
<rect x="390.00" y="88.30" width="4.60" height="7.20" fill="#c6c6c6" stroke="none" stroke-width="1" />
<rect x="423.10" y="36.50" width="4.60" height="26.70" fill="#c6c6c6" stroke="none" stroke-width="1" />
<rect x="333.90" y="90.00" width="8.60" height="23.50" fill="none" stroke="#808080" stroke-width="0.8" />
<rect x="345.70" y="84.30" width="8.60" height="14.60" fill="none" stroke="#808080" stroke-width="0.8" />
<rect x="362.80" y="75.10" width="8.60" height="12.70" fill="none" stroke="#808080" stroke-width="0.8" />
<rect x="388.00" y="94.40" width="8.60" height="17.60" fill="none" stroke="#808080" stroke-width="0.8" />
<rect x="421.10" y="62.20" width="8.60" height="21.00" fill="none" stroke="#808080" stroke-width="0.8" />
<rect x="467.00" y="110.40" width="8.60" height="54.50" fill="none" stroke="#808080" stroke-width="0.8" />
<rect x="383.20" y="105.40" width="6.40" height="4.10" fill="none" stroke="#9090dc" stroke-width="0.6" />
<line x1="386.40" y1="103.90" x2="386.40" y2="108.90" stroke="#6a6ad0" stroke-width="0.6" />
<rect x="395.40" y="110.50" width="6.40" height="4.10" fill="none" stroke="#9090dc" stroke-width="0.6" />
<line x1="398.60" y1="109.00" x2="398.60" y2="114.00" stroke="#6a6ad0" stroke-width="0.6" />
<rect x="407.80" y="112.50" width="6.40" height="4.10" fill="none" stroke="#9090dc" stroke-width="0.6" />
<line x1="411.00" y1="111.00" x2="411.00" y2="116.00" stroke="#6a6ad0" stroke-width="0.6" />
<rect x="419.80" y="112.50" width="6.40" height="4.10" fill="none" stroke="#9090dc" stroke-width="0.6" />
<line x1="423.00" y1="111.00" x2="423.00" y2="116.00" stroke="#6a6ad0" stroke-width="0.6" />
<rect x="437.80" y="118.40" width="6.40" height="4.10" fill="none" stroke="#9090dc" stroke-width="0.6" />
<line x1="441.00" y1="116.90" x2="441.00" y2="121.90" stroke="#6a6ad0" stroke-width="0.6" />
<rect x="461.80" y="118.40" width="6.40" height="4.10" fill="none" stroke="#9090dc" stroke-width="0.6" />
<line x1="465.00" y1="116.90" x2="465.00" y2="121.90" stroke="#6a6ad0" stroke-width="0.6" />
<rect x="486.10" y="120.90" width="6.40" height="4.10" fill="none" stroke="#9090dc" stroke-width="0.6" />
<line x1="489.30" y1="119.40" x2="489.30" y2="124.40" stroke="#6a6ad0" stroke-width="0.6" />
<rect x="522.30" y="123.20" width="6.40" height="4.10" fill="none" stroke="#9090dc" stroke-width="0.6" />
<line x1="525.50" y1="121.70" x2="525.50" y2="126.70" stroke="#6a6ad0" stroke-width="0.6" />
<path d="M310.90,129.10 L313.60,132.30 L310.90,135.50 L308.20,132.30 Z" fill="none" stroke="#6a6ad0" stroke-width="0.72"/>
<path d="M311.86,126.26 L314.56,129.46 L311.86,132.66 L309.16,129.46 Z" fill="none" stroke="#6a6ad0" stroke-width="0.72"/>
<path d="M312.83,123.42 L315.53,126.62 L312.83,129.82 L310.13,126.62 Z" fill="none" stroke="#6a6ad0" stroke-width="0.72"/>
<path d="M313.79,120.58 L316.49,123.78 L313.79,126.98 L311.09,123.78 Z" fill="none" stroke="#6a6ad0" stroke-width="0.72"/>
<path d="M314.76,117.74 L317.46,120.94 L314.76,124.14 L312.06,120.94 Z" fill="none" stroke="#6a6ad0" stroke-width="0.72"/>
<path d="M315.72,114.90 L318.42,118.10 L315.72,121.30 L313.02,118.10 Z" fill="none" stroke="#6a6ad0" stroke-width="0.72"/>
<path d="M316.70,112.06 L319.40,115.26 L316.70,118.46 L314.00,115.26 Z" fill="none" stroke="#6a6ad0" stroke-width="0.72"/>
<path d="M317.89,109.31 L320.59,112.51 L317.89,115.71 L315.19,112.51 Z" fill="none" stroke="#6a6ad0" stroke-width="0.72"/>
<path d="M319.07,106.55 L321.77,109.75 L319.07,112.95 L316.37,109.75 Z" fill="none" stroke="#6a6ad0" stroke-width="0.72"/>
<path d="M320.25,103.79 L322.95,106.99 L320.25,110.19 L317.55,106.99 Z" fill="none" stroke="#6a6ad0" stroke-width="0.72"/>
<path d="M321.44,101.04 L324.14,104.24 L321.44,107.44 L318.74,104.24 Z" fill="none" stroke="#6a6ad0" stroke-width="0.72"/>
<path d="M322.62,98.28 L325.32,101.48 L322.62,104.68 L319.92,101.48 Z" fill="none" stroke="#6a6ad0" stroke-width="0.72"/>
<path d="M323.95,95.59 L326.65,98.79 L323.95,101.99 L321.25,98.79 Z" fill="none" stroke="#6a6ad0" stroke-width="0.72"/>
<path d="M325.34,92.93 L328.04,96.13 L325.34,99.33 L322.64,96.13 Z" fill="none" stroke="#6a6ad0" stroke-width="0.72"/>
<path d="M326.74,90.28 L329.44,93.48 L326.74,96.68 L324.04,93.48 Z" fill="none" stroke="#6a6ad0" stroke-width="0.72"/>
<path d="M328.26,87.70 L330.96,90.90 L328.26,94.10 L325.56,90.90 Z" fill="none" stroke="#6a6ad0" stroke-width="0.72"/>
<path d="M329.88,85.17 L332.58,88.37 L329.88,91.57 L327.18,88.37 Z" fill="none" stroke="#6a6ad0" stroke-width="0.72"/>
<path d="M331.53,82.67 L334.23,85.87 L331.53,89.07 L328.83,85.87 Z" fill="none" stroke="#6a6ad0" stroke-width="0.72"/>
<path d="M333.51,80.69 L336.21,83.89 L333.51,87.09 L330.81,83.89 Z" fill="none" stroke="#6a6ad0" stroke-width="0.72"/>
<path d="M335.83,79.18 L338.53,82.38 L335.83,85.58 L333.13,82.38 Z" fill="none" stroke="#6a6ad0" stroke-width="0.72"/>
<path d="M338.34,77.93 L341.04,81.13 L338.34,84.33 L335.64,81.13 Z" fill="none" stroke="#6a6ad0" stroke-width="0.72"/>
<path d="M340.88,76.78 L343.58,79.98 L340.88,83.18 L338.18,79.98 Z" fill="none" stroke="#6a6ad0" stroke-width="0.72"/>
<path d="M343.57,76.02 L346.27,79.22 L343.57,82.42 L340.87,79.22 Z" fill="none" stroke="#6a6ad0" stroke-width="0.72"/>
<path d="M346.33,75.99 L349.03,79.19 L346.33,82.39 L343.63,79.19 Z" fill="none" stroke="#6a6ad0" stroke-width="0.72"/>
<path d="M349.00,76.77 L351.70,79.97 L349.00,83.17 L346.30,79.97 Z" fill="none" stroke="#6a6ad0" stroke-width="0.72"/>
<path d="M351.55,77.92 L354.25,81.12 L351.55,84.32 L348.85,81.12 Z" fill="none" stroke="#6a6ad0" stroke-width="0.72"/>
<path d="M353.81,79.51 L356.51,82.71 L353.81,85.91 L351.11,82.71 Z" fill="none" stroke="#6a6ad0" stroke-width="0.72"/>
<path d="M355.79,81.49 L358.49,84.69 L355.79,87.89 L353.09,84.69 Z" fill="none" stroke="#6a6ad0" stroke-width="0.72"/>
<path d="M357.77,83.47 L360.47,86.67 L357.77,89.87 L355.07,86.67 Z" fill="none" stroke="#6a6ad0" stroke-width="0.72"/>
<path d="M365.40,90.10 L368.10,93.30 L365.40,96.50 L362.70,93.30 Z" fill="none" stroke="#6a6ad0" stroke-width="0.72"/>
<path d="M371.50,94.40 L374.20,97.60 L371.50,100.80 L368.80,97.60 Z" fill="none" stroke="#6a6ad0" stroke-width="0.72"/>
<path d="M377.60,98.80 L380.30,102.00 L377.60,105.20 L374.90,102.00 Z" fill="none" stroke="#6a6ad0" stroke-width="0.72"/>
<path d="M386.40,103.20 L389.10,106.40 L386.40,109.60 L383.70,106.40 Z" fill="none" stroke="#6a6ad0" stroke-width="0.72"/>
<path d="M398.60,108.30 L401.30,111.50 L398.60,114.70 L395.90,111.50 Z" fill="none" stroke="#6a6ad0" stroke-width="0.72"/>
<path d="M411.00,110.30 L413.70,113.50 L411.00,116.70 L408.30,113.50 Z" fill="none" stroke="#6a6ad0" stroke-width="0.72"/>
<path d="M423.00,110.30 L425.70,113.50 L423.00,116.70 L420.30,113.50 Z" fill="none" stroke="#6a6ad0" stroke-width="0.72"/>
<path d="M441.00,116.20 L443.70,119.40 L441.00,122.60 L438.30,119.40 Z" fill="none" stroke="#6a6ad0" stroke-width="0.72"/>
<path d="M465.00,116.20 L467.70,119.40 L465.00,122.60 L462.30,119.40 Z" fill="none" stroke="#6a6ad0" stroke-width="0.72"/>
<path d="M489.30,118.70 L492.00,121.90 L489.30,125.10 L486.60,121.90 Z" fill="none" stroke="#6a6ad0" stroke-width="0.72"/>
<path d="M525.50,121.00 L528.20,124.20 L525.50,127.40 L522.80,124.20 Z" fill="none" stroke="#6a6ad0" stroke-width="0.72"/>
<line x1="332.24" y1="98.60" x2="344.31" y2="98.60" stroke="#222" stroke-width="0.9" />
<line x1="338.20" y1="81.40" x2="338.20" y2="115.00" stroke="#222" stroke-width="0.9" />
<circle cx="338.20" cy="98.60" r="2.0" fill="#000" stroke="none" stroke-width="1"/>
<line x1="344.31" y1="91.50" x2="356.38" y2="91.50" stroke="#222" stroke-width="0.9" />
<line x1="350.00" y1="78.50" x2="350.00" y2="104.70" stroke="#222" stroke-width="0.9" />
<circle cx="350.00" cy="91.50" r="2.0" fill="#000" stroke="none" stroke-width="1"/>
<line x1="356.38" y1="81.60" x2="380.52" y2="81.60" stroke="#222" stroke-width="0.9" />
<line x1="367.10" y1="70.50" x2="367.10" y2="91.00" stroke="#222" stroke-width="0.9" />
<circle cx="367.10" cy="81.60" r="2.0" fill="#000" stroke="none" stroke-width="1"/>
<line x1="380.52" y1="103.30" x2="404.66" y2="103.30" stroke="#222" stroke-width="0.9" />
<line x1="392.30" y1="89.20" x2="392.30" y2="117.40" stroke="#222" stroke-width="0.9" />
<circle cx="392.30" cy="103.30" r="2.0" fill="#000" stroke="none" stroke-width="1"/>
<line x1="404.66" y1="72.60" x2="452.94" y2="72.60" stroke="#222" stroke-width="0.9" />
<line x1="425.40" y1="57.60" x2="425.40" y2="88.40" stroke="#222" stroke-width="0.9" />
<circle cx="425.40" cy="72.60" r="2.0" fill="#000" stroke="none" stroke-width="1"/>
<line x1="452.94" y1="136.80" x2="501.22" y2="136.80" stroke="#222" stroke-width="0.9" />
<line x1="471.30" y1="112.30" x2="471.30" y2="162.70" stroke="#222" stroke-width="0.9" />
<circle cx="471.30" cy="136.80" r="2.0" fill="#000" stroke="none" stroke-width="1"/>
<rect x="525.50" y="33.50" width="5.40" height="4.60" fill="none" stroke="#555" stroke-width="0.8" />
</svg>
</body></html>
